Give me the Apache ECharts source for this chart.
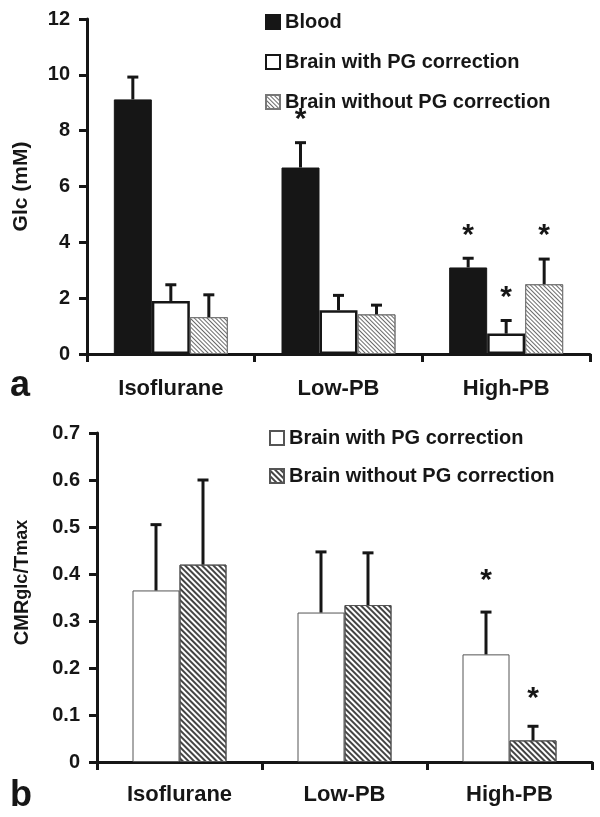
<!DOCTYPE html>
<html><head><meta charset="utf-8">
<script src="https://cdn.jsdelivr.net/npm/echarts@6/dist/echarts.min.js"></script>
<style>html,body{margin:0;padding:0;background:#fff}#c{width:600px;height:817px}</style>
</head><body><div id="c"></div>
<script>
// ---- data ----
const categories = ['Isoflurane', 'Low-PB', 'High-PB'];
// panel a: Glc (mM)
const bloodMean = [9.12, 6.68, 3.1];
const bloodSD = [0.8, 0.89, 0.33];
const bloodStar = [0, 1, 1];
const brainPGMean = [1.9, 1.57, 0.73];
const brainPGSD = [0.58, 0.53, 0.47];
const brainPGStar = [0, 0, 1];
const brainNoPGMean = [1.32, 1.42, 2.5];
const brainNoPGSD = [0.8, 0.33, 0.9];
const brainNoPGStar = [0, 0, 1];
// panel b: CMRglc/Tmax
const cmrPGMean = [0.365, 0.318, 0.229];
const cmrPGSD = [0.14, 0.129, 0.09];
const cmrPGStar = [0, 0, 1];
const cmrNoPGMean = [0.42, 0.334, 0.046];
const cmrNoPGSD = [0.18, 0.111, 0.03];
const cmrNoPGStar = [0, 0, 1];

const FONT = 'Liberation Sans, Arial, sans-serif';
const INK = '#161616';
const chart = echarts.init(document.getElementById('c'));

function errSeries(axis, means, sds, stars, idx, n, barW, starGap) {
  return {
    type: 'custom', xAxisIndex: axis, yAxisIndex: axis, z: 10, silent: true,
    encode: { x: 0, y: 1 },
    data: means.map((m, i) => [i, m, m + sds[i], stars[i]]),
    renderItem(params, api) {
      const c = api.value(0), m = api.value(1), t = api.value(2), s = api.value(3);
      const p0 = api.coord([c, m]);
      const p1 = api.coord([c, t]);
      const x = p0[0] + (idx - (n - 1) / 2) * barW;
      const ch = [
        { type: 'line', shape: { x1: x, y1: p0[1], x2: x, y2: p1[1] }, style: { stroke: INK, lineWidth: 3 } },
        { type: 'line', shape: { x1: x - 5.5, y1: p1[1], x2: x + 5.5, y2: p1[1] }, style: { stroke: INK, lineWidth: 3 } }
      ];
      if (s) ch.push({ type: 'text', x: x, y: p1[1] - starGap,
        style: { text: '*', font: 'bold 30px ' + FONT, fill: INK, align: 'center', verticalAlign: 'middle' } });
      return { type: 'group', children: ch };
    }
  };
}

const axisLine = { show: true, lineStyle: { color: INK, width: 3 } };
const axisTick = { show: true, length: 8, lineStyle: { color: INK, width: 3 } };
const labelStyle = { color: INK, fontWeight: 'bold', fontSize: 20, fontFamily: FONT };
const catLabel = { color: INK, fontWeight: 'bold', fontSize: 22, fontFamily: FONT };

const hatchLight = { symbol: 'rect', symbolSize: 1, dashArrayX: [1, 0], dashArrayY: [1, 2], rotation: Math.PI / 4, color: '#6a6a6a' };
const hatchDark = { symbol: 'rect', symbolSize: 1, dashArrayX: [1, 0], dashArrayY: [1.5, 1.5], rotation: Math.PI / 4, color: '#444' };

const W1 = 38, W2 = 47;

chart.setOption({
  animation: false,
  backgroundColor: '#fff',
  grid: [
    { left: 87, top: 19, width: 503, height: 335 },
    { left: 97, top: 433, width: 495, height: 329 }
  ],
  legend: [
    { orient: 'vertical', left: 265, top: 12, padding: 0, itemWidth: 14, itemHeight: 14, itemGap: 20,
      icon: 'rect', selectedMode: false,
      textStyle: { color: INK, fontWeight: 'bold', fontSize: 20, fontFamily: FONT },
      data: ['Blood', 'Brain with PG correction', 'Brain without PG correction'] },
    { orient: 'vertical', left: 269, top: 428, padding: 0, itemWidth: 14, itemHeight: 14, itemGap: 18,
      icon: 'rect', selectedMode: false,
      textStyle: { color: INK, fontWeight: 'bold', fontSize: 20, fontFamily: FONT },
      data: ['Brain with PG correction ', 'Brain without PG correction '] }
  ],
  xAxis: [
    { type: 'category', gridIndex: 0, data: categories, axisLine, axisTick,
      axisLabel: { ...catLabel, margin: 24 } },
    { type: 'category', gridIndex: 1, data: categories, axisLine, axisTick,
      axisLabel: { ...catLabel, margin: 22 } }
  ],
  yAxis: [
    { type: 'value', gridIndex: 0, min: 0, max: 12, interval: 2, axisLine, axisTick, splitLine: { show: false },
      axisLabel: { ...labelStyle, margin: 17 },
      name: 'Glc (mM)', nameLocation: 'middle', nameRotate: 90, nameGap: 55,
      nameTextStyle: { color: INK, fontWeight: 'bold', fontSize: 21, fontFamily: FONT } },
    { type: 'value', gridIndex: 1, min: 0, max: 0.7, interval: 0.1, axisLine, axisTick, splitLine: { show: false },
      axisLabel: { ...labelStyle, margin: 17 },
      name: '{b|CMR}{s|glc}{b|/T}{s|max}', nameLocation: 'middle', nameRotate: 90, nameGap: 65,
      nameTextStyle: { color: INK, fontFamily: FONT, padding: [0, 0, 0, 30],
        rich: { b: { fontWeight: 'bold', fontSize: 20, fontFamily: FONT, color: INK },
                s: { fontWeight: 'bold', fontSize: 18, fontFamily: FONT, color: INK } } } }
  ],
  graphic: [
    { type: 'text', x: 10, y: 386, style: { text: 'a', font: 'bold 36px ' + FONT, fill: INK, verticalAlign: 'middle' } },
    { type: 'text', x: 10, y: 796, style: { text: 'b', font: 'bold 36px ' + FONT, fill: INK, verticalAlign: 'middle' } }
  ],
  series: [
    { name: 'Blood', type: 'bar', xAxisIndex: 0, yAxisIndex: 0, data: bloodMean, barWidth: W1, barGap: '0%',
      itemStyle: { color: INK, borderColor: INK, borderWidth: 1 } },
    { name: 'Brain with PG correction', type: 'bar', xAxisIndex: 0, yAxisIndex: 0, data: brainPGMean, barWidth: W1, barGap: '0%',
      itemStyle: { color: '#fff', borderColor: INK, borderWidth: 2.5 } },
    { name: 'Brain without PG correction', type: 'bar', xAxisIndex: 0, yAxisIndex: 0, data: brainNoPGMean, barWidth: W1, barGap: '0%',
      itemStyle: { color: '#fff', borderColor: '#777', borderWidth: 1, decal: hatchLight } },
    { name: 'Brain with PG correction ', type: 'bar', xAxisIndex: 1, yAxisIndex: 1, data: cmrPGMean, barWidth: W2, barGap: '0%',
      itemStyle: { color: '#fff', borderColor: '#555', borderWidth: 1 } },
    { name: 'Brain without PG correction ', type: 'bar', xAxisIndex: 1, yAxisIndex: 1, data: cmrNoPGMean, barWidth: W2, barGap: '0%',
      itemStyle: { color: '#fff', borderColor: '#555', borderWidth: 1, decal: hatchDark } },
    errSeries(0, bloodMean, bloodSD, bloodStar, 0, 3, W1, 23),
    errSeries(0, brainPGMean, brainPGSD, brainPGStar, 1, 3, W1, 23),
    errSeries(0, brainNoPGMean, brainNoPGSD, brainNoPGStar, 2, 3, W1, 23),
    errSeries(1, cmrPGMean, cmrPGSD, cmrPGStar, 0, 2, W2, 31),
    errSeries(1, cmrNoPGMean, cmrNoPGSD, cmrNoPGStar, 1, 2, W2, 28)
  ]
});
</script></body></html>
